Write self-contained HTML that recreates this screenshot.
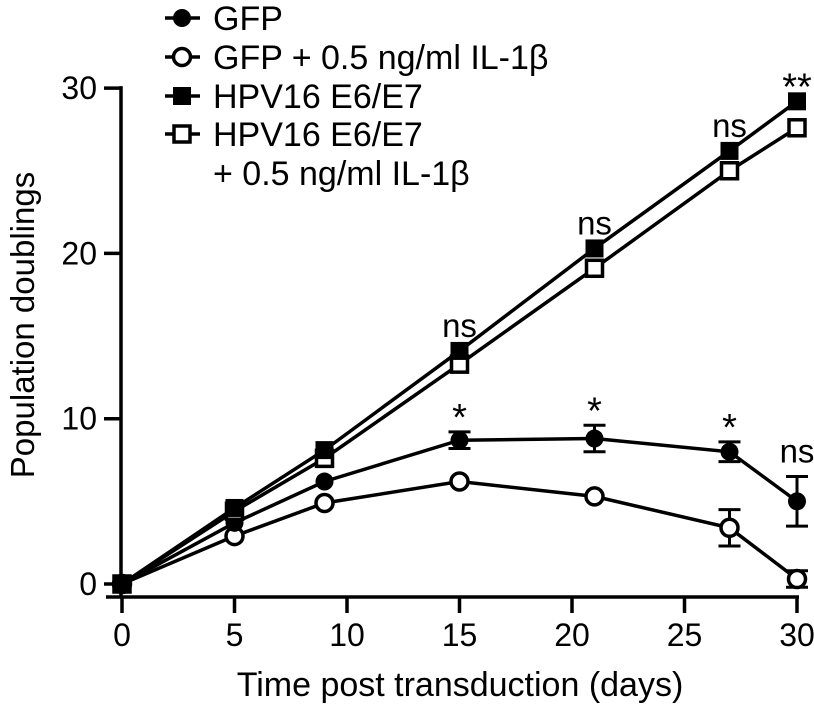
<!DOCTYPE html>
<html><head><meta charset="utf-8"><style>
body{margin:0;background:#fff;}
svg{display:block;font-family:"Liberation Sans",sans-serif;}
</style></head><body>
<svg id="chart" width="814" height="705" viewBox="0 0 814 705"></svg>
<script>
const days=[0,5,9,15,21,27,30];
const gfp=[0,3.7,6.2,8.7,8.8,8.0,5.0];
const gfpErr=[0,0,0,0.5,0.8,0.6,1.5];
const gfpIl=[0,2.9,4.9,6.2,5.3,3.4,0.3];
const gfpIlErr=[0,0,0,0,0,1.1,0.5];
const hpv=[0,4.6,8.1,14.1,20.3,26.2,29.2];
const hpvIl=[0,4.4,7.6,13.3,19.1,25.0,27.6];
const xTicks=[0,5,10,15,20,25,30];
const yTicks=[0,10,20,30];
const annDays=[15,21,27,30,15,21,27,30];
const annVals=[14.1,20.3,26.2,29.2,9.2,9.6,8.6,6.5];
const annText=["ns","ns","ns","**","*","*","*","ns"];

const NS="http://www.w3.org/2000/svg";
const svg=document.getElementById('chart');
const X=v=>122+v*22.5;
const Y=v=>584-v*16.53;
function mk(t,a,p){const e=document.createElementNS(NS,t);for(const k in a)e.setAttribute(k,a[k]);(p||svg).appendChild(e);return e;}

let ax=mk('line',{x1:121,y1:Y(30)-2,x2:121,y2:598,stroke:'#000','stroke-width':3.5});


let bx=mk('line',{x1:106,y1:597,x2:X(30)+2,y2:597,stroke:'#000','stroke-width':3.5});


yTicks.forEach(v=>{
  mk('line',{x1:104,y1:Y(v),x2:121,y2:Y(v),stroke:'#000','stroke-width':3.5});
  const t=mk('text',{x:97,y:Y(v)+11,'text-anchor':'end','font-size':32});t.textContent=v;
  
  
});
xTicks.forEach(v=>{
  mk('line',{x1:X(v),y1:597,x2:X(v),y2:613,stroke:'#000','stroke-width':3.5});
  const t=mk('text',{x:X(v),y:646,'text-anchor':'middle','font-size':32});t.textContent=v;
  
  
});
let yt=mk('text',{x:0,y:0,'text-anchor':'middle','font-size':33,transform:'translate(34,325) rotate(-90)'});
yt.textContent='Population doublings';


let xt=mk('text',{x:460,y:696,'text-anchor':'middle','font-size':34});
xt.textContent='Time post transduction (days)';



function marker(g,type,cx,cy){
  if(type==='fc')mk('circle',{cx,cy,r:9,fill:'#000'},g);
  if(type==='oc')mk('circle',{cx,cy,r:8.5,fill:'#fff',stroke:'#000','stroke-width':3.5},g);
  if(type==='fs')mk('rect',{x:cx-9,y:cy-9,width:18,height:18,fill:'#000'},g);
  if(type==='os')mk('rect',{x:cx-8,y:cy-8,width:16,height:16,fill:'#fff',stroke:'#000','stroke-width':3.5},g);
}
function series(name,vals,err,type){
  const g=mk('g',{});
  
  
  mk('polyline',{points:days.map((d,i)=>X(d)+','+Y(vals[i])).join(' '),fill:'none',stroke:'#000','stroke-width':3.5},g);
  if(err)days.forEach((d,i)=>{if(err[i]>0){const x=X(d),a=Y(vals[i]+err[i]),b=Y(vals[i]-err[i]);
    mk('line',{x1:x,y1:a,x2:x,y2:b,stroke:'#000','stroke-width':3},g);
    mk('line',{x1:x-11,y1:a,x2:x+11,y2:a,stroke:'#000','stroke-width':3},g);
    mk('line',{x1:x-11,y1:b,x2:x+11,y2:b,stroke:'#000','stroke-width':3},g);}});
  days.forEach((d,i)=>marker(g,type,X(d),Y(vals[i])));
}
series('series-gfp-il1b',gfpIl,gfpIlErr,'oc');
series('series-gfp',gfp,gfpErr,'fc');
series('series-hpv16-il1b',hpvIl,null,'os');
series('series-hpv16',hpv,null,'fs');

annDays.forEach((d,i)=>{
  const star=annText[i].indexOf('*')>=0;
  const t=mk('text',{x:X(d),y:star?Y(annVals[i])-2:Y(annVals[i])-14,'text-anchor':'middle','font-size':star?38:33});
  t.textContent=annText[i];
  
  
});

const legRows=[[18,'fc','GFP'],[57,'oc','GFP + 0.5 ng/ml IL-1β'],[96,'fs','HPV16 E6/E7'],[134,'os','HPV16 E6/E7']];
legRows.forEach(r=>{
  const g=mk('g',{});
  
  
  mk('line',{x1:165,y1:r[0],x2:200,y2:r[0],stroke:'#000','stroke-width':3.5},g);
  marker(g,r[1],182,r[0]);
  const t=mk('text',{x:213,y:r[0]+12,'font-size':34},g);t.textContent=r[2];
});
let l2=mk('text',{x:213,y:185,'font-size':34});l2.textContent='+ 0.5 ng/ml IL-1β';


</script>
</body></html>
